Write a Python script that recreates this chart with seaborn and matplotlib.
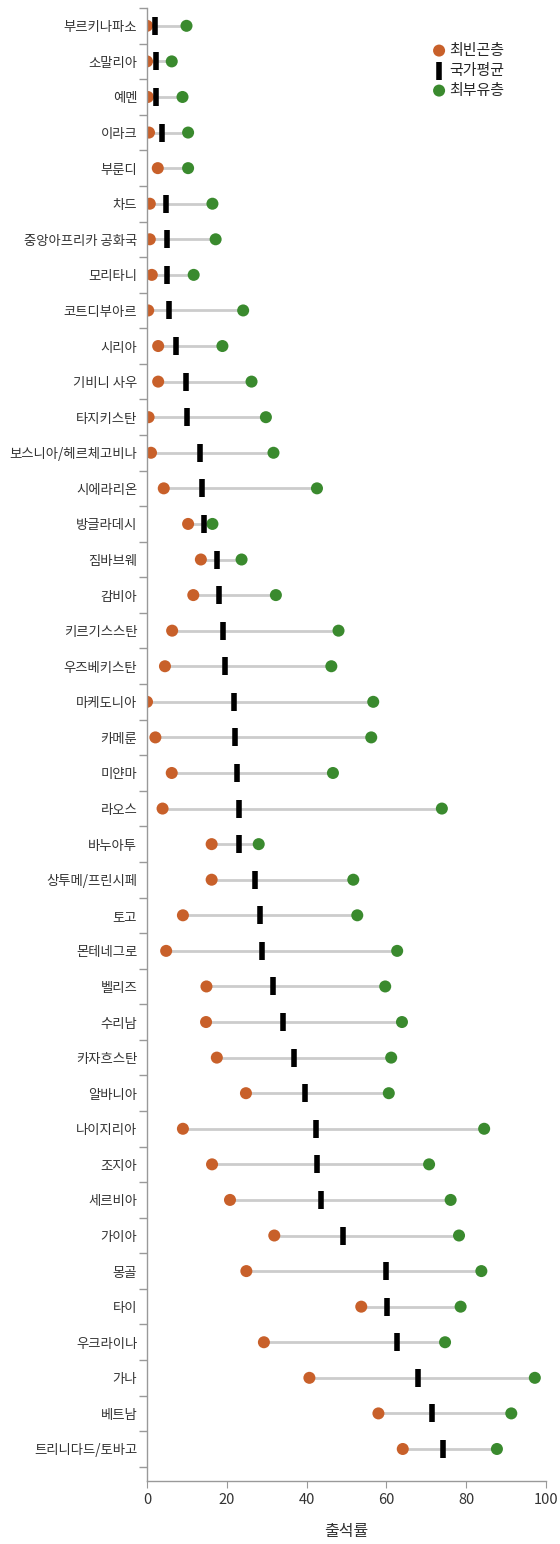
import numpy as np
import pandas as pd
import matplotlib
matplotlib.use('Agg')
import matplotlib.pyplot as plt
import seaborn as sns

countries = ['부르키나파소', '소말리아', '예멘', '이라크', '부룬디', '차드', '중앙아프리카 공화국',
             '모리타니', '코트디부아르', '시리아', '기비니 사우', '타지키스탄', '보스니아/헤르체고비나',
             '시에라리온', '방글라데시', '짐바브웨', '감비아', '키르기스스탄', '우즈베키스탄', '마케도니아',
             '카메룬', '미얀마', '라오스', '바누아투', '상투메/프린시페', '토고', '몬테네그로', '벨리즈',
             '수리남', '카자흐스탄', '알바니아', '나이지리아', '조지아', '세르비아', '가이아', '몽골',
             '타이', '우크라이나', '가나', '베트남', '트리니다드/토바고']
poorest = [0.0, 0.0, 0.2, 0.5, 2.7, 0.7, 0.7, 1.2, 0.3, 2.8, 2.8, 0.4, 1.0, 4.2, 10.3, 13.5,
           11.6, 6.3, 4.5, 0.0, 2.1, 6.2, 3.9, 16.2, 16.2, 9.0, 4.8, 14.9, 14.8, 17.5, 24.8,
           9.0, 16.3, 20.8, 31.9, 24.9, 53.7, 29.3, 40.7, 58.0, 64.1]
average = [1.9, 2.2, 2.2, 3.7, np.nan, 4.7, 4.9, 4.9, 5.5, 7.2, 9.7, 10.0, 13.3, 13.7, 14.4, 17.5,
           18.0, 19.0, 19.5, 21.8, 22.0, 22.5, 23.0, 23.0, 27.0, 28.3, 28.8, 31.6, 34.1, 36.9, 39.6,
           42.3, 42.6, 43.6, 49.1, 59.9, 60.2, 62.7, 68.0, 71.5, 74.3]
richest = [9.9, 6.2, 8.9, 10.3, 10.3, 16.4, 17.2, 11.7, 24.1, 18.9, 26.2, 29.8, 31.7, 42.6, 16.4, 23.7,
           32.3, 48.0, 46.2, 56.7, 56.2, 46.6, 73.9, 28.0, 51.7, 52.7, 62.7, 59.7, 63.9, 61.2, 60.6,
           84.5, 70.7, 76.1, 78.2, 83.8, 78.6, 74.7, 97.2, 91.3, 87.7]

df = pd.DataFrame({'country': countries, 'poor': poorest, 'avg': average, 'rich': richest})
df['pos'] = np.arange(len(df))

sns.set_style('white')
plt.rcParams['font.family'] = ['Noto Sans CJK KR', 'DejaVu Sans']

c_poor = '#c8602a'
c_rich = '#3a8a2e'
txt = '#333333'

fig = plt.figure(figsize=(5.6, 15.44), dpi=100)
ax = fig.add_axes([0.2625, 0.0408, 0.7125, 0.954])

# connector lines
ax.hlines(df.pos, df.poor, df.rich, color='#cccccc', lw=2, zorder=1)

sns.scatterplot(data=df, x='avg', y='pos', marker='|', s=170, linewidth=4, color='black',
                ax=ax, zorder=3, label='국가평균')
sns.scatterplot(data=df, x='poor', y='pos', s=75, color=c_poor, edgecolor='none',
                ax=ax, zorder=2, label='최빈곤층')
sns.scatterplot(data=df, x='rich', y='pos', s=75, color=c_rich, edgecolor='none',
                ax=ax, zorder=2, label='최부유층')

n = len(df)
ax.set_xlim(0, 100)
ax.set_ylim(n - 0.5 + 0.4, -0.5)
ax.set_yticks(df.pos)
ax.set_yticklabels(df.country, fontsize=9.6, color=txt)
ax.set_yticks(np.arange(n + 1) - 0.5, minor=True)
ax.tick_params(axis='y', which='both', left=True)
ax.tick_params(axis='y', which='major', length=0, pad=7)
ax.tick_params(axis='y', which='minor', length=6, color='#999999', width=1)
ax.set_xticks([0, 20, 40, 60, 80, 100])
ax.tick_params(axis='x', bottom=True, length=5, color='#999999', labelsize=10.5, labelcolor=txt)
ax.set_xlabel('출석률', fontsize=11.5, color=txt, labelpad=12)
ax.set_ylabel('')

for s in ['top', 'right']:
    ax.spines[s].set_visible(False)
for s in ['left', 'bottom']:
    ax.spines[s].set_color('#999999')
    ax.spines[s].set_linewidth(1)

h, l = ax.get_legend_handles_labels()
order = [l.index('최빈곤층'), l.index('국가평균'), l.index('최부유층')]
ax.legend([h[i] for i in order], [l[i] for i in order], loc='upper right',
          bbox_to_anchor=(0.915, 0.981), frameon=False, fontsize=10.8,
          handletextpad=0.2, labelspacing=0.4, borderpad=0, handlelength=1)

fig.savefig('out.png', dpi=100)
